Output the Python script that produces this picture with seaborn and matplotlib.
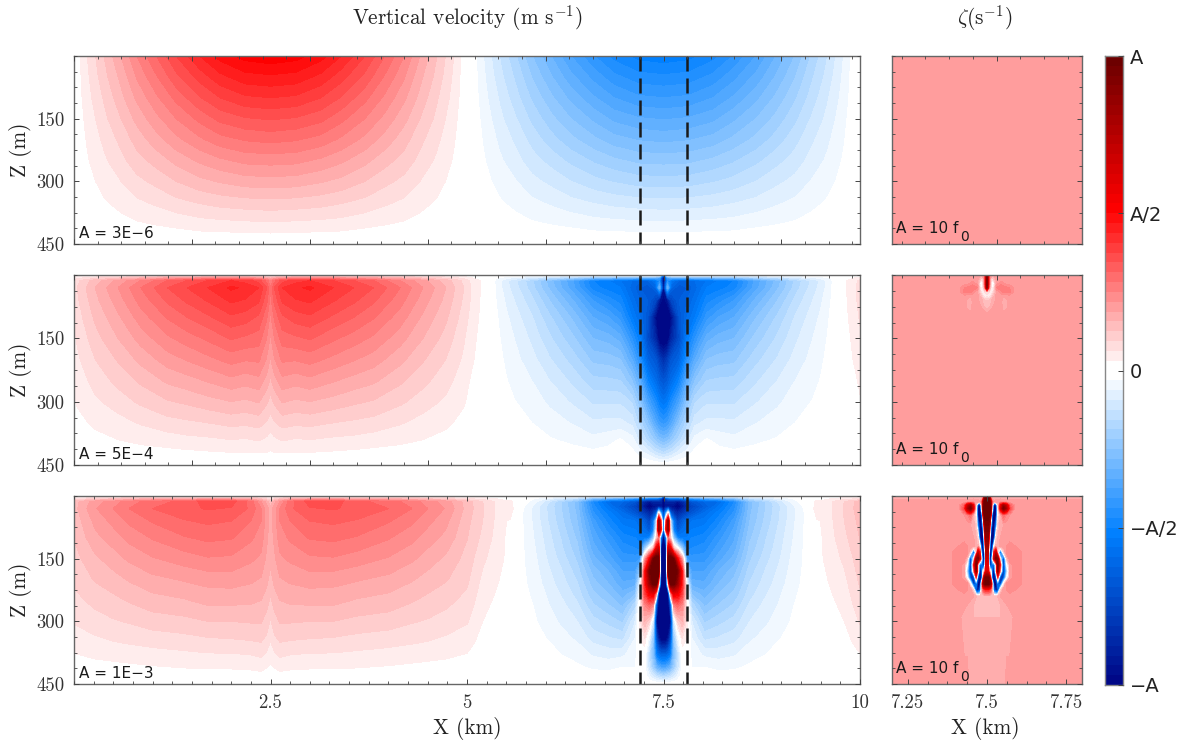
import numpy as np
import matplotlib
matplotlib.use("Agg")
import matplotlib.pyplot as plt
from matplotlib.colors import ListedColormap
from matplotlib.ticker import MultipleLocator, FixedLocator
import seaborn as sns

# all field values are in units of A/32, read off the contour bands
# tables hold half a lobe: one inner list per distance d from the lobe centre
z1 = [0, 50, 100, 150, 200, 250, 300, 350, 400, 450]
d1_red = [0, .32, .64, .9, 1.2, 1.45, 1.7, 1.9, 2.12, 2.33, 2.42, 2.5]
d1_blue = [0, .32, .63, .88, 1.18, 1.43, 1.67, 1.87, 2.09, 2.29, 2.38, 2.46]
w1_lobe = [
    [16.7, 14.8, 13, 11.1, 9.3, 7.4, 5.6, 3.7, 1.9, 0],
    [16.4, 14.6, 12.8, 10.9, 9.1, 7.3, 5.5, 3.6, 1.8, 0],
    [15.4, 13.7, 12, 10.3, 8.6, 6.8, 5.1, 3.4, 1.7, 0],
    [14, 12.4, 10.9, 9.3, 7.8, 6.2, 4.7, 3.1, 1.6, 0],
    [12, 10.7, 9.3, 8, 6.7, 5.3, 4, 2.7, 1.3, 0],
    [10, 8.9, 7.8, 6.7, 5.6, 4.4, 3.3, 2.2, 1.1, 0],
    [8, 7.1, 6.2, 5.3, 4.4, 3.6, 2.7, 1.8, .9, 0],
    [6, 5.3, 4.7, 4, 3.3, 2.7, 2, 1.3, .7, 0],
    [4, 3.6, 3.1, 2.7, 2.2, 1.8, 1.3, .9, .4, 0],
    [2, 1.8, 1.6, 1.3, 1.1, .9, .7, .4, .2, 0],
    [1, .9, .8, .7, .6, .4, .3, .2, .1, 0],
    [0, 0, 0, 0, 0, 0, 0, 0, 0, 0],
]

z2 = [0, 6, 13, 30, 60, 100, 150, 200, 250, 300, 350, 390, 420, 450]
d2_red = [0, .05, .15, .32, .5, .8, 1.06, 1.31, 1.65, 1.94, 2.23, 2.46, 2.55, 2.67, 2.75]
w2_red = [
    [0, 4, 8, 9.2, 8.6, 7.7, 6.8, 5.9, 4.8, 3.6, 2.5, 1.6, .9, 0],
    [0, 5, 9.5, 11, 10.3, 9.2, 8, 6.9, 5.6, 4.2, 2.9, 1.8, 1, 0],
    [0, 6, 11.5, 13, 12.2, 10.8, 9.5, 8.2, 6.7, 5.1, 3.4, 2.1, 1, 0],
    [0, 6.5, 12.5, 13.8, 12.9, 11.5, 9.8, 8.1, 6.4, 4.8, 3.2, 1.9, 1, 0],
    [0, 7, 13, 14.2, 13.2, 11.8, 10.1, 8.4, 6.7, 5, 3.3, 2, 1, 0],
    [0, 6.5, 12, 13, 12.1, 10.8, 9.2, 7.7, 6.1, 4.6, 3, 1.8, .9, 0],
    [0, 6, 11, 12, 11.2, 10, 8.5, 7.1, 5.6, 4.2, 2.8, 1.7, .8, 0],
    [0, 5.5, 10, 11, 10.2, 9.1, 7.8, 6.5, 5.2, 3.9, 2.6, 1.5, .7, 0],
    [0, 4.5, 8, 9, 8.4, 7.5, 6.4, 5.3, 4.2, 3.2, 2.1, 1.25, .6, 0],
    [0, 3.5, 6.3, 7, 6.5, 5.8, 5, 4.1, 3.3, 2.5, 1.6, 1, .5, 0],
    [0, 2.5, 4.5, 5, 4.7, 4.2, 3.6, 3, 2.4, 1.8, 1.2, .7, .3, 0],
    [0, 1.5, 2.7, 3, 2.8, 2.5, 2.1, 1.8, 1.4, 1.1, .7, .4, .2, 0],
    [0, 1, 1.8, 2, 1.9, 1.7, 1.4, 1.2, .9, .7, .5, .3, .1, 0],
    [0, .5, 1, 1, .95, .85, .7, .6, .45, .35, .2, .1, .1, 0],
    [0, 0, 0, 0, 0, 0, 0, 0, 0, 0, 0, 0, 0, 0],
]
d2_blue = [0, .05, .1, .2, .3, .4, .55, .7, .9, 1.15, 1.45, 1.7, 1.9, 2.0, 2.13, 2.2]
w2_blue = [
    [-20, -33, -33, -30, -32, -34, -34, -27, -22, -18, -13.5, -9, -5, 0],
    [0, -12, -15, -10, -30, -34, -33, -25, -21, -17, -13, -8.5, -4.5, 0],
    [0, -10, -18, -20, -24, -31, -28, -22, -19, -15, -11.5, -7.5, -4, 0],
    [0, -10, -20, -22, -21, -22, -23, -20, -16, -12, -8, -5.5, -2.5, 0],
    [0, -10, -20, -21, -20, -19, -17, -14.5, -11, -8, -5.5, -3.4, -1.6, 0],
    [0, -9, -19, -19.5, -18.5, -17, -14, -11, -8, -5.2, -3.3, -1.6, -.7, 0],
    [0, -9, -18, -17, -15.5, -13.5, -10.5, -8, -6, -4.2, -2.7, -.9, -.2, 0],
    [0, -8.5, -17, -16.5, -14.5, -12, -9.5, -7.5, -5.8, -4.2, -2.7, -1.4, -.6, 0],
    [0, -8, -16, -15.5, -13, -11, -9, -7.3, -5.7, -4.2, -2.8, -1.7, -.8, 0],
    [0, -6, -12, -11.7, -10, -8.3, -6.8, -5.5, -4.3, -3.2, -2.1, -1.3, -.6, 0],
    [0, -4.5, -8.5, -8.2, -7, -5.8, -4.8, -3.9, -3, -2.2, -1.5, -.9, -.4, 0],
    [0, -3, -5.5, -5.3, -4.5, -3.7, -3.1, -2.5, -1.9, -1.4, -.95, -.6, -.3, 0],
    [0, -2, -3.7, -3.5, -3, -2.5, -2, -1.65, -1.3, -.95, -.6, -.4, -.2, 0],
    [0, -1.5, -2.8, -2.6, -2.2, -1.8, -1.5, -1.2, -.95, -.7, -.45, -.3, -.1, 0],
    [0, -.8, -1.3, -1.2, -1, -.83, -.68, -.55, -.43, -.3, -.2, -.1, -.05, 0],
    [0, 0, 0, 0, 0, 0, 0, 0, 0, 0, 0, 0, 0, 0],
]

d3_red = [0, .05, .12, .25, .5, .8, 1.1, 1.5, 1.8, 2.0, 2.23, 2.5, 2.7, 2.85, 2.98, 3.05, 3.15]
w3_red = [
    [0, 2, 4, 5.5, 5.6, 5.5, 5.3, 4.6, 3.8, 2.9, 1.9, 1.2, .7, 0],
    [0, 2.5, 5.5, 6.5, 6.5, 6.2, 5.8, 5.3, 4.5, 3.5, 2.7, 1.5, .8, 0],
    [0, 3.5, 7, 8, 8, 7.5, 6.8, 5.9, 5, 4.1, 3, 1.9, 1, 0],
    [0, 4.5, 9.5, 9.8, 9, 8.2, 7.2, 6.2, 5.2, 4.1, 2.9, 1.7, .9, 0],
    [0, 5, 11.5, 10.9, 10, 9.1, 7.8, 6.5, 5.3, 4, 2.8, 1.6, .85, 0],
    [0, 5, 11.5, 11.1, 10.2, 9.25, 7.9, 6.4, 5.3, 4, 2.7, 1.6, .85, 0],
    [0, 5, 10.3, 10.7, 9.9, 8.9, 7.5, 6.1, 4.9, 3.7, 2.5, 1.5, .8, 0],
    [0, 4.5, 9.5, 10, 9.1, 8.1, 6.9, 5.7, 4.6, 3.5, 2.3, 1.35, .7, 0],
    [0, 4, 8.5, 9, 8.2, 7.3, 6.2, 5.1, 4.1, 3.1, 2.1, 1.2, .6, 0],
    [0, 3.5, 7.5, 8, 7.3, 6.5, 5.5, 4.6, 3.7, 2.9, 1.95, 1.1, .55, 0],
    [0, 3, 6.5, 6.9, 6.3, 5.7, 4.8, 4.1, 3.3, 2.6, 1.7, 1, .5, 0],
    [0, 2, 4.5, 4.6, 4.3, 4.05, 3.6, 3.2, 2.7, 2.1, 1.4, .8, .4, 0],
    [0, 1.5, 3, 3.1, 3, 2.7, 2.2, 1.75, 1.35, 1, .6, .3, .15, 0],
    [0, 1, 2, 2, 1.95, 1.8, 1.55, 1.25, .9, .55, .3, .15, 0, 0],
    [0, .6, 1.2, 1.6, 1.05, 1, .95, .7, .45, .25, .1, 0, 0, 0],
    [0, .4, 1.3, 1.6, .9, .5, .3, 0, 0, 0, 0, 0, 0, 0],
    [0, 0, 0, 0, 0, 0, 0, 0, 0, 0, 0, 0, 0, 0],
]
z3 = [0, 6, 13, 25, 40, 60, 80, 100, 125, 150, 180, 210, 235, 260, 300, 340, 380, 410, 430, 450]
d3_blue = [0, .03, .06, .09, .13, .18, .24, .3, .36, .52, .7, .9, 1.1, 1.3, 1.5, 1.65, 1.79, 1.85]
w3_blue = [
    [-20, -33, -33, -33, -25, -20, -20, -33, -34, -34, -34, -34, -34, -34, -34, -33, -20, -12, -6, 0],
    [0, -25, -28, -30, -15, 10, 15, -20, -32, -33, -33, -33, -34, -34, -34, -33, -20, -12, -5.5, 0],
    [0, -20, -28, -30, 0, 28, 28, 8, 22, 33, 34, 5, -33, -34, -34, -30, -19, -11, -5, 0],
    [0, -18, -28, -30, -22, -5, -2, 3, 18, 34, 34, 33, 5, -22, -31, -24, -17, -10, -4.5, 0],
    [0, -18, -28, -31, -26, -18, -16, -8, 4, 30, 34, 32, 18, 8, -4, -8, -9, -7, -3.5, 0],
    [0, -18, -30, -33, -28, -24, -22, -16, 0, 16, 30, 26, 17, 10, 3, -2, -5, -4, -2, 0],
    [0, -17, -28, -30, -26, -21, -19, -17, -8, 6, 14, 14, 12, 8, 5, 2, 0, -.5, -.2, 0],
    [0, -15, -25, -27, -24, -19, -18, -17, -15.5, -13, -8, -2, -.5, .5, 1.5, 1, 0, 0, 0, 0],
    [0, -14, -22, -24, -22, -18, -17, -16, -15, -13.5, -12, -10.5, -8, -5.5, -3, -2, -1.3, -1, -.1, 0],
    [0, -12, -20, -21, -19, -17.5, -16.5, -15.5, -14.5, -13.5, -12, -10.8, -9.6, -8.3, -6.2, -4.3, -2.2, -1, -.2, 0],
    [0, -11, -19, -18, -16.5, -15.5, -14.5, -13.5, -12.5, -11.5, -10, -9, -8, -7, -5.4, -3.9, -2.4, -1.3, -.6, 0],
    [0, -9, -15, -14.5, -13.8, -12.5, -11.8, -11.2, -10.5, -9.6, -8.4, -7.5, -6.7, -5.9, -4.6, -3.4, -2.1, -1.2, -.5, 0],
    [0, -5, -8.4, -8.4, -8.2, -8, -7.6, -7.2, -6.7, -6.2, -5.5, -4.9, -4.4, -3.8, -3, -2.2, -1.4, -.8, -.4, 0],
    [0, -3.5, -6, -6, -5.9, -5.7, -5.4, -5.1, -4.8, -4.4, -3.9, -3.5, -3.1, -2.7, -2.2, -1.6, -1, -.55, -.25, 0],
    [0, -2, -3.3, -3.9, -3.8, -3.7, -3.5, -3.3, -3.1, -2.9, -2.6, -2.3, -2, -1.8, -1.4, -1, -.6, -.35, -.15, 0],
    [0, -1, -1.5, -2.2, -2.3, -2.2, -2.1, -2, -1.85, -1.7, -1.5, -1.35, -1.2, -1.05, -.85, -.6, -.35, -.2, -.1, 0],
    [0, 0, -.3, -.8, -1, -1, -.95, -.95, -.9, -.9, -.85, -.8, -.7, -.5, -.3, -.2, -.1, 0, 0, 0],
    [0] * 20,
]

# vorticity panels, same units, half tables around x = 7.5
z_zeta1 = [0, 450]
d_zeta1 = [0, .3]
zeta1 = [[6.5, 6.5], [6.5, 6.5]]

z_zeta2 = [0, 10, 20, 30, 40, 50, 60, 70, 80, 90, 100, 450]
d_zeta2 = [0, .008, .015, .022, .03, .045, .053, .07, .085, .1, .3]
zeta2 = [
    [30, 30, 30, 28, 3, 1.5, 4, 4.5, 5, 6, 6.5, 6.5],
    [8, 8, 8, 6, 2, 1, 4, 4.5, 5.3, 6.5, 6.5, 6.5],
    [6.5, 1, 0, 0, .5, 3, 5, 5.5, 6, 6.5, 6.5, 6.5],
    [6.5, 4, .5, 2, 3.5, 5, 5.5, 6, 6.5, 6.5, 6.5, 6.5],
    [6.5, 6.5, 6.5, 8, 6, 6.5, 6.5, 6.5, 6.5, 6.5, 6.5, 6.5],
    [6.5, 6.5, 7.5, 9, 7.5, 6.5, 6.5, 6.5, 6.5, 6.5, 6.5, 6.5],
    [6.5, 6.5, 7, 8.5, 8.5, 6, 4.8, 4.8, 5.2, 6.5, 6.5, 6.5],
    [6.5, 6.5, 6.5, 8, 8.5, 6.5, 6.5, 6.5, 6.5, 6.5, 6.5, 6.5],
    [6.5, 6.5, 6.5, 7, 7, 6.5, 6.5, 6.5, 6.5, 6.5, 6.5, 6.5],
    [6.5] * 12,
    [6.5] * 12,
]

z_zeta3 = [0, 14, 22, 30, 45, 70, 100, 120, 135, 150, 165, 180, 195, 210, 225, 240, 260, 290, 450]
d_zeta3 = [0, .004, .008, .012, .017, .022, .028, .034, .042, .052, .062, .072, .09, .11, .3]
zeta3 = [
    [32, 32, 32, 32, 32, 30, 28, 26, 24, 22, 20, 20, 30, 32, 14, 4.5, 4.5, 5, 5.3],
    [30, 32, 32, 32, 32, 30, 28, 26, 22, 18, 18, 18, 30, 32, 14, 4.5, 4.5, 5, 5.3],
    [25, 32, 32, 32, 32, 26, 8, -8, -26, -32, -22, 4, 28, 30, 12, 4.5, 4.5, 5, 5.3],
    [5, 24, 28, 30, 22, -8, -33, -33, -33, -32, -26, 0, 10, 26, 10, 4.5, 4.5, 5, 5.3],
    [5, 8, 1, -4, -28, -33, -33, -30, -18, -2, -18, -26, -28, 3, 3, 4.5, 4.5, 5, 5.3],
    [5, 6, -30, -33, -33, -33, -30, -2, 14, 20, -20, -33, -33, -30, -20, 4.5, 4.5, 5, 5.3],
    [5, 6.5, -30, -33, -33, -20, 2, 6, 22, 30, 0, 1, -26, -33, -30, 4.5, 4.5, 5, 5.3],
    [5, 6.5, 1, 0, 0, 3, 5, 5, 2, 28, 30, 28, 12, -18, -26, 5, 4.5, 5, 5.3],
    [5, 7, 16, 18, 5, 5.5, 6, 7, -24, -2, 14, 6, -26, -28, 2, 6, 5, 5, 5.3],
    [5, 6.5, 26, 30, 10, 6, 6.5, 7, 2, -26, -28, -28, -24, 0, 7, 6.5, 5.5, 5.3, 5.3],
    [5, 6.5, 20, 24, 8, 6.5, 6.5, 7, 8, 4, -2, -8, -2, 8, 7, 6.5, 6, 5.3, 6.5],
    [5, 6.5, 10, 12, 7, 6.5, 6.5, 7.5, 8, 8, 6, 6, 6, 8, 7.5, 6.5, 6.5, 5.3, 6.5],
    [5, 6.5, 6.5, 6.5, 6.5, 6.5, 6.5, 7, 8, 8, 8, 8, 8, 8, 7, 6.5, 6.5, 6.5, 6.5],
    [5, 6.5, 6.5, 6.5, 6.5, 6.5, 6.5, 6.5, 7, 7, 7, 7, 7, 7, 6.5, 6.5, 6.5, 6.5, 6.5],
    [5] + [6.5] * 18,
]

amp_labels = ["A = 3E\u22126", "A = 5E\u22124", "A = 1E\u22123"]
cbar_labels = ["\u2212A", "\u2212A/2", "0", "A/2", "A"]
colour_stops = ["#00007f", "#0080ff", "#ffffff", "#ff0000", "#660000"]

W, H = 1181, 742
sns.set_theme(style="ticks")
plt.rcParams["font.family"] = ["cmr10", "DejaVu Sans"]
plt.rcParams["mathtext.fontset"] = "cm"
plt.rcParams["axes.formatter.use_mathtext"] = True
plt.rcParams["axes.unicode_minus"] = False

# bands are one A/32 wide, the two around zero both white
pal = sns.blend_palette(colour_stops, n_colors=65)
white = (1.0, 1.0, 1.0)
band_cols = list(pal[1:32]) + [white, white] + list(pal[33:64])
cmap = ListedColormap(band_cols)
levels = np.arange(-32, 33)


def pix_axes(left, right, top, bottom):
    return fig.add_axes([left / W, 1 - bottom / H, (right - left) / W, (bottom - top) / H])


def draw_lobe(ax, centre, d, z, table, sign=1):
    d = np.array(d)
    half = sign * np.array(table, dtype=float).T
    xs = np.concatenate([centre - d[::-1], centre + d[1:]])
    field = np.hstack([half[:, ::-1], half[:, 1:]])
    ax.contourf(xs, z, field, levels=levels, cmap=cmap, vmin=-32, vmax=32, extend="both")


def style_axes(ax, xmajor, xminor, xlim):
    ax.set_axisbelow(False)
    ax.set_xlim(*xlim)
    ax.set_ylim(450, 0)
    ax.xaxis.set_major_locator(xmajor)
    ax.xaxis.set_minor_locator(xminor)
    ax.yaxis.set_major_locator(FixedLocator([150, 300, 450]))
    ax.yaxis.set_minor_locator(MultipleLocator(37.5))
    ax.tick_params(which="major", direction="in", top=True, right=True, length=3.6, width=.7,
                   color="#444444", labelsize=13.5, labelcolor="#333333", pad=7)
    ax.tick_params(which="minor", direction="in", top=True, right=True, length=1.9, width=.6,
                   color="#444444")
    ax.tick_params(labelbottom=False, labelleft=False)
    for s in ax.spines.values():
        s.set_visible(True)
        s.set_color("#666666")
        s.set_linewidth(1)


fig = plt.figure(figsize=(W / 100, H / 100), dpi=100)

rows = [(56, 244), (275, 465), (496, 684)]
ax_w = [pix_axes(74, 860, t, b) for t, b in rows]
ax_z = [pix_axes(892, 1082, t, b) for t, b in rows]

draw_lobe(ax_w[0], 2.5, d1_red, z1, w1_lobe)
draw_lobe(ax_w[0], 7.5, d1_blue, z1, w1_lobe, sign=-1)
for c in (2.5, 12.5):
    draw_lobe(ax_w[1], c, d2_red, z2, w2_red)
    draw_lobe(ax_w[2], c, d3_red, z2, w3_red)
draw_lobe(ax_w[1], 7.5, d2_blue, z2, w2_blue)
draw_lobe(ax_w[2], 7.5, d3_blue, z3, w3_blue)

draw_lobe(ax_z[0], 7.5, d_zeta1, z_zeta1, zeta1)
draw_lobe(ax_z[1], 7.5, d_zeta2, z_zeta2, zeta2)
draw_lobe(ax_z[2], 7.5, d_zeta3, z_zeta3, zeta3)

for i, ax in enumerate(ax_w):
    if i < 2:
        style_axes(ax, MultipleLocator(1.5), MultipleLocator(.3), (0, 10))
    else:
        style_axes(ax, MultipleLocator(2.5), MultipleLocator(.25), (0, 10))
    # dashes start from the surface
    for xd in (7.2, 7.8):
        ax.plot([xd, xd], [0, 450], color="k", lw=1.8, dashes=(6, 2.8), scalex=False, scaley=False)
    ax.tick_params(labelleft=True)
    ax.set_yticks([150, 300, 450], ["150", "300", "450"])
    ax.text(.006, .015, amp_labels[i], transform=ax.transAxes, family="DejaVu Sans",
            fontsize=11, color="k", va="bottom", ha="left")

ax_w[2].tick_params(labelbottom=True)
ax_w[2].set_xticks([2.5, 5, 7.5, 10], ["2.5", "5", "7.5", "10"])

for i, ax in enumerate(ax_z):
    if i < 2:
        style_axes(ax, FixedLocator([7.53]), FixedLocator(7.23 + .075 * np.arange(9)), (7.2, 7.8))
    else:
        style_axes(ax, MultipleLocator(.25), MultipleLocator(.0625), (7.2, 7.8))
    ax.text(.02, .044, "A = 10 f", transform=ax.transAxes, family="DejaVu Sans",
            fontsize=11, color="k", va="bottom", ha="left")
    ax.text(.36, 0, "0", transform=ax.transAxes, family="DejaVu Sans",
            fontsize=10, color="k", va="bottom", ha="left")
ax_z[2].tick_params(labelbottom=True)
ax_z[2].set_xticks([7.25, 7.5, 7.75], ["7.25", "7.5", "7.75"])

# colour bar strip, one cell per band
cax = pix_axes(1105, 1123, 56, 685)
strip = (levels[:-1] + .5).reshape(-1, 1)
sns.heatmap(strip, ax=cax, cmap=cmap, vmin=-32, vmax=32, cbar=False,
            xticklabels=False, yticklabels=False)
cax.set_axisbelow(False)
cax.set_ylim(0, 64)
cax.yaxis.tick_right()
cax.set_yticks([0, 16, 32, 48, 64], cbar_labels, family="DejaVu Sans", fontsize=14)
cax.tick_params(axis="y", direction="in", length=3.5, width=.7, color="#444444",
                labelcolor="#222222", pad=5)
for s in cax.spines.values():
    s.set_visible(True)
    s.set_color("#888888")
    s.set_linewidth(1)

label_kw = dict(fontsize=15.3, color="#222222", ha="center", va="center")
fig.text(467 / W, 1 - 18 / H, "Vertical velocity (m s$^{-1}$)", **label_kw)
fig.text(985 / W, 1 - 18 / H, r"$\zeta(\mathrm{s}^{-1})$", **label_kw)
fig.text(467 / W, 1 - 728 / H, "X (km)", **label_kw)
fig.text(985 / W, 1 - 728 / H, "X (km)", **label_kw)
for t, b in rows:
    fig.text(20 / W, 1 - ((t + b) / 2) / H, "Z (m)", rotation=90, **label_kw)

fig.savefig("out.png", dpi=100)
